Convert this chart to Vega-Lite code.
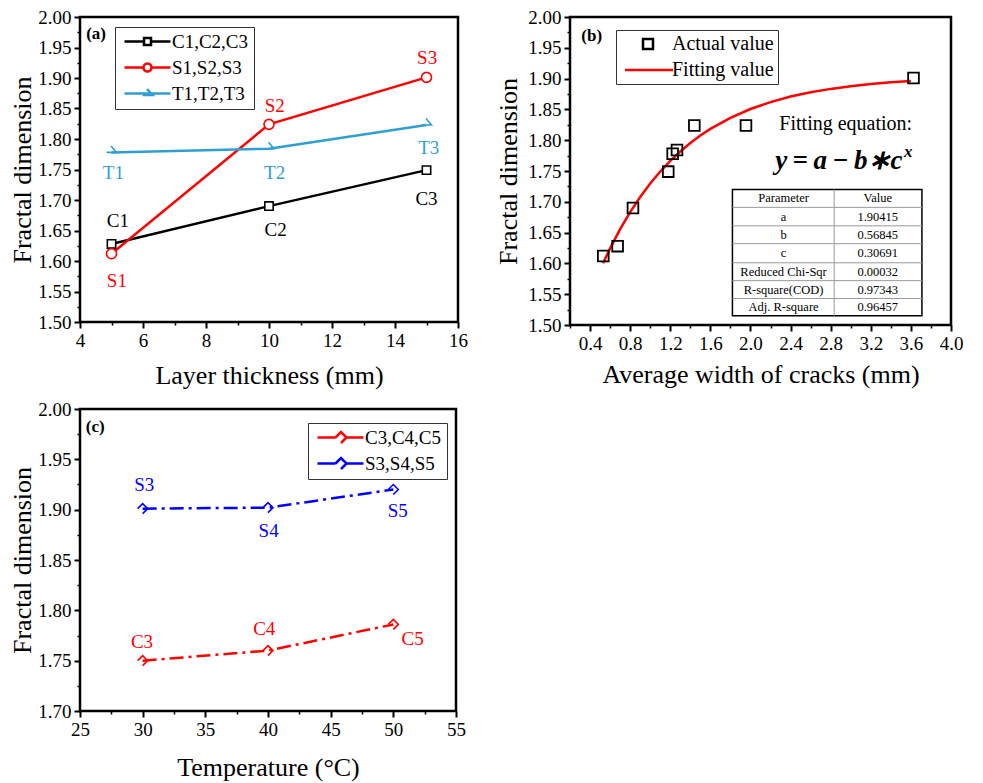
{
 "$schema": "https://vega.github.io/schema/vega-lite/v6.json",
 "background": "white",
 "padding": {"left": 8, "top": 6, "right": 5, "bottom": 5},
 "columns": 2,
 "spacing": {"row": 8, "column": 25},
 "resolve": {"scale": {"color": "independent", "shape": "independent"}, "legend": {"color": "independent", "shape": "independent"}},
 "datasets": {
  "a_pts": [
   {"series": "C1,C2,C3", "x": 5, "y": 1.628}, {"series": "C1,C2,C3", "x": 10, "y": 1.690}, {"series": "C1,C2,C3", "x": 15, "y": 1.749},
   {"series": "S1,S2,S3", "x": 5, "y": 1.612}, {"series": "S1,S2,S3", "x": 10, "y": 1.824}, {"series": "S1,S2,S3", "x": 15, "y": 1.901},
   {"series": "T1,T2,T3", "x": 5, "y": 1.778}, {"series": "T1,T2,T3", "x": 10, "y": 1.784}, {"series": "T1,T2,T3", "x": 15, "y": 1.823}
  ],
  "a_lbl": [
   {"series": "C1,C2,C3", "x": 5.2, "y": 1.665, "label": "C1"}, {"series": "C1,C2,C3", "x": 10.21, "y": 1.651, "label": "C2"}, {"series": "C1,C2,C3", "x": 15.0, "y": 1.701, "label": "C3"},
   {"series": "S1,S2,S3", "x": 5.17, "y": 1.568, "label": "S1"}, {"series": "S1,S2,S3", "x": 10.18, "y": 1.854, "label": "S2"}, {"series": "S1,S2,S3", "x": 15.02, "y": 1.932, "label": "S3"},
   {"series": "T1,T2,T3", "x": 5.06, "y": 1.744, "label": "T1"}, {"series": "T1,T2,T3", "x": 10.18, "y": 1.745, "label": "T2"}, {"series": "T1,T2,T3", "x": 15.07, "y": 1.786, "label": "T3"}
  ],
  "a_tag": [{"x": 4.51, "y": 1.972, "label": "(a)"}],
  "b_pts": [
   {"series": "Actual value", "x": 0.532, "y": 1.612}, {"series": "Actual value", "x": 0.675, "y": 1.628}, {"series": "Actual value", "x": 0.828, "y": 1.690},
   {"series": "Actual value", "x": 1.18, "y": 1.749}, {"series": "Actual value", "x": 1.224, "y": 1.778}, {"series": "Actual value", "x": 1.267, "y": 1.784},
   {"series": "Actual value", "x": 1.44, "y": 1.824}, {"series": "Actual value", "x": 1.955, "y": 1.824}, {"series": "Actual value", "x": 3.626, "y": 1.901}
  ],
  "b_fit": [
   {"series": "Fitting value", "x": 0.53, "y": 1.6002}, {"series": "Fitting value", "x": 0.6, "y": 1.6243}, {"series": "Fitting value", "x": 0.7, "y": 1.6555},
   {"series": "Fitting value", "x": 0.8, "y": 1.6832}, {"series": "Fitting value", "x": 0.9, "y": 1.7078}, {"series": "Fitting value", "x": 1.0, "y": 1.7297},
   {"series": "Fitting value", "x": 1.1, "y": 1.7491}, {"series": "Fitting value", "x": 1.2, "y": 1.7664}, {"series": "Fitting value", "x": 1.3, "y": 1.7817},
   {"series": "Fitting value", "x": 1.4, "y": 1.7954}, {"series": "Fitting value", "x": 1.5, "y": 1.8075}, {"series": "Fitting value", "x": 1.6, "y": 1.8183},
   {"series": "Fitting value", "x": 1.8, "y": 1.8363}, {"series": "Fitting value", "x": 2.0, "y": 1.8506}, {"series": "Fitting value", "x": 2.2, "y": 1.8619},
   {"series": "Fitting value", "x": 2.4, "y": 1.8708}, {"series": "Fitting value", "x": 2.6, "y": 1.8778}, {"series": "Fitting value", "x": 2.8, "y": 1.8833},
   {"series": "Fitting value", "x": 3.0, "y": 1.8877}, {"series": "Fitting value", "x": 3.2, "y": 1.8912}, {"series": "Fitting value", "x": 3.4, "y": 1.8939},
   {"series": "Fitting value", "x": 3.6, "y": 1.8961}
  ],
  "b_box": [{"x": 1.82, "x2": 3.71, "y": 1.515, "y2": 1.72}],
  "b_lines": [
   {"x": 2.835, "x2": 2.835, "y": 1.515, "y2": 1.72},
   {"x": 1.82, "x2": 3.71, "y": 1.691, "y2": 1.691},
   {"x": 1.82, "x2": 3.71, "y": 1.661, "y2": 1.661},
   {"x": 1.82, "x2": 3.71, "y": 1.632, "y2": 1.632},
   {"x": 1.82, "x2": 3.71, "y": 1.601, "y2": 1.601},
   {"x": 1.82, "x2": 3.71, "y": 1.572, "y2": 1.572},
   {"x": 1.82, "x2": 3.71, "y": 1.543, "y2": 1.543}
  ],
  "b_cells": [
   {"x": 2.33, "y": 1.7055, "label": "Parameter"}, {"x": 3.27, "y": 1.7055, "label": "Value"},
   {"x": 2.33, "y": 1.676, "label": "a"}, {"x": 3.27, "y": 1.676, "label": "1.90415"},
   {"x": 2.33, "y": 1.6465, "label": "b"}, {"x": 3.27, "y": 1.6465, "label": "0.56845"},
   {"x": 2.33, "y": 1.6165, "label": "c"}, {"x": 3.27, "y": 1.6165, "label": "0.30691"},
   {"x": 2.33, "y": 1.5865, "label": "Reduced Chi-Sqr"}, {"x": 3.27, "y": 1.5865, "label": "0.00032"},
   {"x": 2.33, "y": 1.5575, "label": "R-square(COD)"}, {"x": 3.27, "y": 1.5575, "label": "0.97343"},
   {"x": 2.33, "y": 1.529, "label": "Adj. R-square"}, {"x": 3.27, "y": 1.529, "label": "0.96457"}
  ],
  "b_note": [{"x": 2.95, "y": 1.826, "label": "Fitting equation:"}],
  "b_tag": [{"x": 0.417, "y": 1.969, "label": "(b)"}],
  "b_eq": [{"x": 3.517, "y": 1.767, "label": "y\u2009=\u2009a\u2009−\u2009b∗c"}],
  "b_sup": [{"x": 3.53, "y": 1.781, "label": "x"}],
  "c_pts": [
   {"series": "C3,C4,C5", "x": 30, "y": 1.750}, {"series": "C3,C4,C5", "x": 40, "y": 1.760}, {"series": "C3,C4,C5", "x": 50, "y": 1.786},
   {"series": "S3,S4,S5", "x": 30, "y": 1.901}, {"series": "S3,S4,S5", "x": 40, "y": 1.902}, {"series": "S3,S4,S5", "x": 50, "y": 1.920}
  ],
  "c_lbl": [
   {"series": "C3,C4,C5", "x": 29.95, "y": 1.769, "label": "C3"}, {"series": "C3,C4,C5", "x": 39.7, "y": 1.781, "label": "C4"}, {"series": "C3,C4,C5", "x": 51.54, "y": 1.772, "label": "C5"},
   {"series": "S3,S4,S5", "x": 30.13, "y": 1.925, "label": "S3"}, {"series": "S3,S4,S5", "x": 40.05, "y": 1.879, "label": "S4"}, {"series": "S3,S4,S5", "x": 50.35, "y": 1.899, "label": "S5"}
  ],
  "c_tag": [{"x": 26.22, "y": 1.982, "label": "(c)"}]
 },
 "concat": [
  {
   "width": 378, "height": 305,
   "resolve": {"axis": {"x": "independent", "y": "independent"}},
   "layer": [
    {
     "data": {"name": "a_pts"},
     "mark": {"type": "line", "strokeWidth": 2.5},
     "encoding": {
      "x": {"field": "x", "type": "quantitative", "scale": {"domain": [4, 16], "nice": false, "zero": false}, "axis": {"orient": "bottom", "values": [4, 6, 8, 10, 12, 14, 16], "format": "d", "title": "Layer thickness (mm)", "titlePadding": 12}},
      "y": {"field": "y", "type": "quantitative", "scale": {"domain": [1.5, 2.0], "nice": false, "zero": false}, "axis": {"orient": "left", "values": [1.5, 1.55, 1.6, 1.65, 1.7, 1.75, 1.8, 1.85, 1.9, 1.95, 2.0], "format": ".2f", "title": "Fractal dimension", "titlePadding": 2}},
      "color": {"field": "series", "type": "nominal", "scale": {"domain": ["C1,C2,C3", "S1,S2,S3", "T1,T2,T3"], "range": ["black", "#ff0000", "#2f9fd3"]},
       "legend": {"orient": "none", "legendX": 35, "legendY": 10, "title": null, "strokeColor": "#333", "fillColor": "white", "padding": 5, "labelFontSize": 19, "labelOffset": 33, "rowPadding": 6, "symbolSize": 100, "symbolStrokeWidth": 2.5, "symbolOpacity": 1, "symbolFillColor": "transparent", "labelLimit": 400}}
     }
    },
    {
     "data": {"name": "a_pts"},
     "mark": {"type": "point", "filled": false, "opacity": 0},
     "encoding": {
      "x": {"field": "x", "type": "quantitative", "scale": {"domain": [4, 16], "nice": false, "zero": false}, "axis": {"orient": "bottom", "values": [5, 7, 9, 11, 13, 15], "labels": false, "tickSize": 3, "tickWidth": 1.5, "title": null}},
      "y": {"field": "y", "type": "quantitative", "scale": {"domain": [1.5, 2.0], "nice": false, "zero": false}, "axis": {"orient": "left", "values": [1.525, 1.575, 1.625, 1.675, 1.725, 1.775, 1.825, 1.875, 1.925, 1.975], "labels": false, "tickSize": 3, "tickWidth": 1.5, "title": null}},
      "color": {"field": "series", "type": "nominal"},
      "shape": {"field": "series", "type": "nominal", "scale": {"domain": ["C1,C2,C3", "S1,S2,S3", "T1,T2,T3"], "range": ["M-1,0 L2.9,0 M4.3,0 L8.2,0 M2.9,-0.7 L4.3,-0.7 L4.3,0.7 L2.9,0.7 Z", "M-1,0 L2.8,0 M4.4,0 L8.2,0 M2.8,0 A0.8,0.8 0 1,0 4.4,0 A0.8,0.8 0 1,0 2.8,0", "M-1,0 L8.2,0 M2.6,0.3 L4.6,0.3 L3.5,-0.9"]}}
     }
    },
    {
     "data": {"name": "a_pts"},
     "transform": [{"filter": "datum.series === 'C1,C2,C3'"}],
     "mark": {"type": "point", "shape": "square", "filled": false, "fill": "white", "color": "black", "size": 70, "strokeWidth": 1.6, "opacity": 1},
     "encoding": {
      "x": {"field": "x", "type": "quantitative", "scale": {"domain": [4, 16], "nice": false, "zero": false}, "axis": null},
      "y": {"field": "y", "type": "quantitative", "scale": {"domain": [1.5, 2.0], "nice": false, "zero": false}, "axis": null}
     }
    },
    {
     "data": {"name": "a_pts"},
     "transform": [{"filter": "datum.series === 'S1,S2,S3'"}],
     "mark": {"type": "point", "shape": "circle", "filled": false, "fill": "white", "color": "#ff0000", "size": 100, "strokeWidth": 1.6, "opacity": 1},
     "encoding": {
      "x": {"field": "x", "type": "quantitative", "scale": {"domain": [4, 16], "nice": false, "zero": false}, "axis": null},
      "y": {"field": "y", "type": "quantitative", "scale": {"domain": [1.5, 2.0], "nice": false, "zero": false}, "axis": null}
     }
    },
    {
     "data": {"name": "a_pts"},
     "transform": [{"filter": "datum.series === 'T1,T2,T3'"}],
     "mark": {"type": "point", "shape": "M-1,0 L1,0 L-0.1,-1.3", "filled": false, "color": "#2f9fd3", "size": 100, "strokeWidth": 1.6, "opacity": 1},
     "encoding": {
      "x": {"field": "x", "type": "quantitative", "scale": {"domain": [4, 16], "nice": false, "zero": false}, "axis": null},
      "y": {"field": "y", "type": "quantitative", "scale": {"domain": [1.5, 2.0], "nice": false, "zero": false}, "axis": null}
     }
    },
    {
     "data": {"name": "a_lbl"},
     "transform": [{"filter": "datum.series === 'C1,C2,C3'"}],
     "mark": {"type": "text", "font": "Liberation Serif", "fontSize": 19, "baseline": "middle", "align": "center", "color": "black"},
     "encoding": {
      "x": {"field": "x", "type": "quantitative", "scale": {"domain": [4, 16], "nice": false, "zero": false}, "axis": null},
      "y": {"field": "y", "type": "quantitative", "scale": {"domain": [1.5, 2.0], "nice": false, "zero": false}, "axis": null},
      "text": {"field": "label"}
     }
    },
    {
     "data": {"name": "a_lbl"},
     "transform": [{"filter": "datum.series === 'S1,S2,S3'"}],
     "mark": {"type": "text", "font": "Liberation Serif", "fontSize": 19, "baseline": "middle", "align": "center", "color": "#ff0000"},
     "encoding": {
      "x": {"field": "x", "type": "quantitative", "scale": {"domain": [4, 16], "nice": false, "zero": false}, "axis": null},
      "y": {"field": "y", "type": "quantitative", "scale": {"domain": [1.5, 2.0], "nice": false, "zero": false}, "axis": null},
      "text": {"field": "label"}
     }
    },
    {
     "data": {"name": "a_lbl"},
     "transform": [{"filter": "datum.series === 'T1,T2,T3'"}],
     "mark": {"type": "text", "font": "Liberation Serif", "fontSize": 19, "baseline": "middle", "align": "center", "color": "#2f9fd3"},
     "encoding": {
      "x": {"field": "x", "type": "quantitative", "scale": {"domain": [4, 16], "nice": false, "zero": false}, "axis": null},
      "y": {"field": "y", "type": "quantitative", "scale": {"domain": [1.5, 2.0], "nice": false, "zero": false}, "axis": null},
      "text": {"field": "label"}
     }
    },
    {
     "data": {"name": "a_tag"},
     "mark": {"type": "text", "font": "Liberation Serif", "fontSize": 17, "fontWeight": "bold", "baseline": "middle", "align": "center", "color": "black"},
     "encoding": {
      "x": {"field": "x", "type": "quantitative", "scale": {"domain": [4, 16], "nice": false, "zero": false}, "axis": null},
      "y": {"field": "y", "type": "quantitative", "scale": {"domain": [1.5, 2.0], "nice": false, "zero": false}, "axis": null},
      "text": {"field": "label"}
     }
    }
   ]
  },
  {
   "width": 381, "height": 308,
   "resolve": {"axis": {"x": "independent", "y": "independent"}},
   "layer": [
    {
     "data": {"name": "b_fit"},
     "mark": {"type": "line", "strokeWidth": 2.5},
     "encoding": {
      "x": {"field": "x", "type": "quantitative", "scale": {"domain": [0.2, 4.0], "nice": false, "zero": false}, "axis": {"orient": "bottom", "values": [0.4, 0.8, 1.2, 1.6, 2.0, 2.4, 2.8, 3.2, 3.6, 4.0], "format": ".1f", "title": "Average width of cracks (mm)", "titlePadding": 8}},
      "y": {"field": "y", "type": "quantitative", "scale": {"domain": [1.5, 2.0], "nice": false, "zero": false}, "axis": {"orient": "left", "values": [1.5, 1.55, 1.6, 1.65, 1.7, 1.75, 1.8, 1.85, 1.9, 1.95, 2.0], "format": ".2f", "title": "Fractal dimension", "titlePadding": 6}},
      "color": {"field": "series", "type": "nominal", "scale": {"domain": ["Actual value", "Fitting value"], "range": ["black", "#ff0000"]},
       "legend": {"orient": "none", "legendX": 46, "legendY": 13, "title": null, "strokeColor": "#333", "fillColor": "white", "padding": 4, "labelFontSize": 20, "labelOffset": 32, "rowPadding": 6, "symbolSize": 100, "symbolStrokeWidth": 2.5, "symbolOpacity": 1, "symbolFillColor": "transparent", "labelLimit": 400}}
     }
    },
    {
     "data": {"name": "b_pts"},
     "mark": {"type": "point", "filled": false, "opacity": 0},
     "encoding": {
      "x": {"field": "x", "type": "quantitative", "scale": {"domain": [0.2, 4.0], "nice": false, "zero": false}, "axis": {"orient": "bottom", "values": [0.2, 0.6, 1.0, 1.4, 1.8, 2.2, 2.6, 3.0, 3.4, 3.8], "labels": false, "tickSize": 3, "tickWidth": 1.5, "title": null}},
      "y": {"field": "y", "type": "quantitative", "scale": {"domain": [1.5, 2.0], "nice": false, "zero": false}, "axis": {"orient": "left", "values": [1.525, 1.575, 1.625, 1.675, 1.725, 1.775, 1.825, 1.875, 1.925, 1.975], "labels": false, "tickSize": 3, "tickWidth": 1.5, "title": null}},
      "color": {"field": "series", "type": "nominal"},
      "shape": {"field": "series", "type": "nominal", "scale": {"domain": ["Actual value", "Fitting value"], "range": ["M2.6,-1 L4.6,-1 L4.6,1 L2.6,1 Z", "M-1,0 L8.6,0"]}}
     }
    },
    {
     "data": {"name": "b_pts"},
     "mark": {"type": "point", "shape": "square", "filled": false, "color": "black", "size": 115, "strokeWidth": 1.8, "opacity": 1},
     "encoding": {
      "x": {"field": "x", "type": "quantitative", "scale": {"domain": [0.2, 4.0], "nice": false, "zero": false}, "axis": null},
      "y": {"field": "y", "type": "quantitative", "scale": {"domain": [1.5, 2.0], "nice": false, "zero": false}, "axis": null}
     }
    },
    {
     "data": {"name": "b_box"},
     "mark": {"type": "rect", "fill": "white", "stroke": "black", "strokeWidth": 1.5},
     "encoding": {
      "x": {"field": "x", "type": "quantitative", "scale": {"domain": [0.2, 4.0], "nice": false, "zero": false}, "axis": null},
      "x2": {"field": "x2"},
      "y": {"field": "y", "type": "quantitative", "scale": {"domain": [1.5, 2.0], "nice": false, "zero": false}, "axis": null},
      "y2": {"field": "y2"}
     }
    },
    {
     "data": {"name": "b_lines"},
     "mark": {"type": "rule", "color": "#9a9a9a", "strokeWidth": 1},
     "encoding": {
      "x": {"field": "x", "type": "quantitative", "scale": {"domain": [0.2, 4.0], "nice": false, "zero": false}, "axis": null},
      "x2": {"field": "x2"},
      "y": {"field": "y", "type": "quantitative", "scale": {"domain": [1.5, 2.0], "nice": false, "zero": false}, "axis": null},
      "y2": {"field": "y2"}
     }
    },
    {
     "data": {"name": "b_cells"},
     "mark": {"type": "text", "font": "Liberation Serif", "fontSize": 12.5, "baseline": "middle", "align": "center", "color": "black"},
     "encoding": {
      "x": {"field": "x", "type": "quantitative", "scale": {"domain": [0.2, 4.0], "nice": false, "zero": false}, "axis": null},
      "y": {"field": "y", "type": "quantitative", "scale": {"domain": [1.5, 2.0], "nice": false, "zero": false}, "axis": null},
      "text": {"field": "label"}
     }
    },
    {
     "data": {"name": "b_note"},
     "mark": {"type": "text", "font": "Liberation Serif", "fontSize": 20, "baseline": "middle", "align": "center", "color": "black"},
     "encoding": {
      "x": {"field": "x", "type": "quantitative", "scale": {"domain": [0.2, 4.0], "nice": false, "zero": false}, "axis": null},
      "y": {"field": "y", "type": "quantitative", "scale": {"domain": [1.5, 2.0], "nice": false, "zero": false}, "axis": null},
      "text": {"field": "label"}
     }
    },
    {
     "data": {"name": "b_tag"},
     "mark": {"type": "text", "font": "Liberation Serif", "fontSize": 17, "fontWeight": "bold", "baseline": "middle", "align": "center", "color": "black"},
     "encoding": {
      "x": {"field": "x", "type": "quantitative", "scale": {"domain": [0.2, 4.0], "nice": false, "zero": false}, "axis": null},
      "y": {"field": "y", "type": "quantitative", "scale": {"domain": [1.5, 2.0], "nice": false, "zero": false}, "axis": null},
      "text": {"field": "label"}
     }
    },
    {
     "data": {"name": "b_eq"},
     "mark": {"type": "text", "font": "Liberation Serif", "fontSize": 27, "fontWeight": "bold", "fontStyle": "italic", "baseline": "middle", "align": "right", "color": "black"},
     "encoding": {
      "x": {"field": "x", "type": "quantitative", "scale": {"domain": [0.2, 4.0], "nice": false, "zero": false}, "axis": null},
      "y": {"field": "y", "type": "quantitative", "scale": {"domain": [1.5, 2.0], "nice": false, "zero": false}, "axis": null},
      "text": {"field": "label"}
     }
    },
    {
     "data": {"name": "b_sup"},
     "mark": {"type": "text", "font": "Liberation Serif", "fontSize": 17, "fontWeight": "bold", "fontStyle": "italic", "baseline": "middle", "align": "left", "color": "black"},
     "encoding": {
      "x": {"field": "x", "type": "quantitative", "scale": {"domain": [0.2, 4.0], "nice": false, "zero": false}, "axis": null},
      "y": {"field": "y", "type": "quantitative", "scale": {"domain": [1.5, 2.0], "nice": false, "zero": false}, "axis": null},
      "text": {"field": "label"}
     }
    }
   ]
  },
  {
   "width": 376, "height": 302,
   "resolve": {"axis": {"x": "independent", "y": "independent"}},
   "layer": [
    {
     "data": {"name": "c_pts"},
     "mark": {"type": "line", "strokeWidth": 2.5, "strokeDash": [14, 5, 3, 5]},
     "encoding": {
      "x": {"field": "x", "type": "quantitative", "scale": {"domain": [25, 55], "nice": false, "zero": false}, "axis": {"orient": "bottom", "values": [25, 30, 35, 40, 45, 50, 55], "format": "d", "title": "Temperature (°C)", "titlePadding": 15}},
      "y": {"field": "y", "type": "quantitative", "scale": {"domain": [1.7, 2.0], "nice": false, "zero": false}, "axis": {"orient": "left", "values": [1.7, 1.75, 1.8, 1.85, 1.9, 1.95, 2.0], "format": ".2f", "title": "Fractal dimension", "titlePadding": 2}},
      "color": {"field": "series", "type": "nominal", "scale": {"domain": ["C3,C4,C5", "S3,S4,S5"], "range": ["#ff0000", "#0000ff"]},
       "legend": {"orient": "none", "legendX": 228, "legendY": 14, "title": null, "strokeColor": "#333", "fillColor": "white", "padding": 5, "labelFontSize": 19, "labelOffset": 33, "rowPadding": 5, "symbolSize": 100, "symbolStrokeWidth": 2.5, "symbolOpacity": 1, "symbolFillColor": "transparent", "labelLimit": 400}}
     }
    },
    {
     "data": {"name": "c_pts"},
     "mark": {"type": "point", "filled": false, "opacity": 0},
     "encoding": {
      "x": {"field": "x", "type": "quantitative", "scale": {"domain": [25, 55], "nice": false, "zero": false}, "axis": {"orient": "bottom", "values": [27.5, 32.5, 37.5, 42.5, 47.5, 52.5], "labels": false, "tickSize": 3, "tickWidth": 1.5, "title": null}},
      "y": {"field": "y", "type": "quantitative", "scale": {"domain": [1.7, 2.0], "nice": false, "zero": false}, "axis": {"orient": "left", "values": [1.725, 1.775, 1.825, 1.875, 1.925, 1.975], "labels": false, "tickSize": 3, "tickWidth": 1.5, "title": null}},
      "color": {"field": "series", "type": "nominal"},
      "shape": {"field": "series", "type": "nominal", "scale": {"domain": ["C3,C4,C5", "S3,S4,S5"], "range": ["M-1,0 L2.6,0 M4.8,0 L8.2,0 M2.6,0 L3.7,-1.1 L4.8,0 L3.7,1.1", "M-1,0 L2.6,0 M4.8,0 L8.2,0 M2.6,0 L3.7,-1.1 L4.8,0 L3.7,1.1"]}}
     }
    },
    {
     "data": {"name": "c_pts"},
     "transform": [{"filter": "datum.series === 'C3,C4,C5'"}],
     "mark": {"type": "point", "shape": "M-1,0 L0,-1 L1,0 L0,1", "filled": false, "color": "#ff0000", "size": 100, "strokeWidth": 1.6, "opacity": 1},
     "encoding": {
      "x": {"field": "x", "type": "quantitative", "scale": {"domain": [25, 55], "nice": false, "zero": false}, "axis": null},
      "y": {"field": "y", "type": "quantitative", "scale": {"domain": [1.7, 2.0], "nice": false, "zero": false}, "axis": null}
     }
    },
    {
     "data": {"name": "c_pts"},
     "transform": [{"filter": "datum.series === 'S3,S4,S5'"}],
     "mark": {"type": "point", "shape": "M-1,0 L0,-1 L1,0 L0,1", "filled": false, "color": "#0000ff", "size": 100, "strokeWidth": 1.6, "opacity": 1},
     "encoding": {
      "x": {"field": "x", "type": "quantitative", "scale": {"domain": [25, 55], "nice": false, "zero": false}, "axis": null},
      "y": {"field": "y", "type": "quantitative", "scale": {"domain": [1.7, 2.0], "nice": false, "zero": false}, "axis": null}
     }
    },
    {
     "data": {"name": "c_lbl"},
     "transform": [{"filter": "datum.series === 'C3,C4,C5'"}],
     "mark": {"type": "text", "font": "Liberation Serif", "fontSize": 19, "baseline": "middle", "align": "center", "color": "#ff0000"},
     "encoding": {
      "x": {"field": "x", "type": "quantitative", "scale": {"domain": [25, 55], "nice": false, "zero": false}, "axis": null},
      "y": {"field": "y", "type": "quantitative", "scale": {"domain": [1.7, 2.0], "nice": false, "zero": false}, "axis": null},
      "text": {"field": "label"}
     }
    },
    {
     "data": {"name": "c_lbl"},
     "transform": [{"filter": "datum.series === 'S3,S4,S5'"}],
     "mark": {"type": "text", "font": "Liberation Serif", "fontSize": 19, "baseline": "middle", "align": "center", "color": "#0000ff"},
     "encoding": {
      "x": {"field": "x", "type": "quantitative", "scale": {"domain": [25, 55], "nice": false, "zero": false}, "axis": null},
      "y": {"field": "y", "type": "quantitative", "scale": {"domain": [1.7, 2.0], "nice": false, "zero": false}, "axis": null},
      "text": {"field": "label"}
     }
    },
    {
     "data": {"name": "c_tag"},
     "mark": {"type": "text", "font": "Liberation Serif", "fontSize": 17, "fontWeight": "bold", "baseline": "middle", "align": "center", "color": "black"},
     "encoding": {
      "x": {"field": "x", "type": "quantitative", "scale": {"domain": [25, 55], "nice": false, "zero": false}, "axis": null},
      "y": {"field": "y", "type": "quantitative", "scale": {"domain": [1.7, 2.0], "nice": false, "zero": false}, "axis": null},
      "text": {"field": "label"}
     }
    }
   ]
  }
 ],
 "config": {
  "font": "Liberation Serif",
  "view": {"stroke": "black", "strokeWidth": 2.5},
  "axis": {"domain": false, "grid": false, "tickColor": "black", "tickWidth": 2, "tickSize": 6, "labelFont": "Liberation Serif", "labelFontSize": 19, "labelColor": "black", "labelPadding": 3, "labelFlush": false, "labelOverlap": false, "labelBound": false, "titleFont": "Liberation Serif", "titleFontSize": 26, "titleFontWeight": "normal", "titleColor": "black"},
  "legend": {"labelFont": "Liberation Serif", "labelColor": "black", "titleFont": "Liberation Serif", "symbolOpacity": 1},
  "text": {"font": "Liberation Serif"}
 }
}
